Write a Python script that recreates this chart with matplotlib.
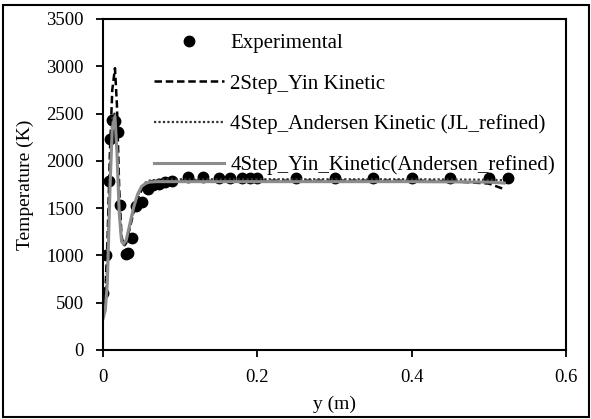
import matplotlib
matplotlib.use("Agg")
import matplotlib.pyplot as plt
from matplotlib.patches import Rectangle

plt.rcParams['font.family'] = ['Liberation Serif', 'DejaVu Serif']

# Experimental data
exp_y = [0.0, 0.0035, 0.0078, 0.0087, 0.012, 0.0156, 0.020, 0.0217, 0.030, 0.033,
         0.038, 0.0425, 0.051, 0.058, 0.065, 0.072, 0.080, 0.090, 0.11, 0.13,
         0.15, 0.165, 0.18, 0.19, 0.20, 0.25, 0.30, 0.35, 0.40, 0.45, 0.50, 0.525]
exp_T = [607, 1000, 1786, 2230, 2436, 2418, 2300, 1536, 1010, 1030,
         1180, 1520, 1560, 1700, 1740, 1760, 1780, 1790, 1830, 1830,
         1820, 1820, 1820, 1815, 1815, 1815, 1815, 1815, 1815, 1815, 1815, 1820]

# 2Step_Yin Kinetic
yin2_y = [0.0, 0.003, 0.006, 0.009, 0.012, 0.0155, 0.018, 0.021, 0.024, 0.027,
          0.030, 0.035, 0.040, 0.045, 0.050, 0.055, 0.060, 0.070, 0.080, 0.10,
          0.20, 0.30, 0.40, 0.45, 0.50, 0.52]
yin2_T = [350, 600, 1200, 2100, 2750, 2980, 2600, 1700, 1200, 1100,
          1130, 1300, 1470, 1600, 1690, 1745, 1770, 1785, 1790, 1790,
          1790, 1790, 1790, 1785, 1760, 1700]

# 4Step_Andersen Kinetic (JL_refined)
and4_y = [0.0, 0.003, 0.006, 0.009, 0.012, 0.015, 0.018, 0.021, 0.024, 0.027,
          0.030, 0.035, 0.040, 0.045, 0.050, 0.055, 0.060, 0.070, 0.080, 0.10,
          0.20, 0.30, 0.40, 0.50, 0.52]
and4_T = [330, 480, 1000, 1900, 2450, 2500, 2150, 1500, 1150, 1110,
          1150, 1320, 1500, 1630, 1720, 1770, 1790, 1800, 1805, 1805,
          1805, 1805, 1805, 1800, 1795]

# 4Step_Yin_Kinetic(Andersen_refined)
yin4_y = [0.0, 0.003, 0.0056, 0.009, 0.012, 0.0155, 0.018, 0.021, 0.024, 0.0265,
          0.030, 0.035, 0.040, 0.045, 0.050, 0.055, 0.060, 0.070, 0.080, 0.10,
          0.20, 0.30, 0.40, 0.50, 0.52]
yin4_T = [330, 420, 700, 1700, 2350, 2470, 2100, 1450, 1150, 1120,
          1160, 1340, 1520, 1650, 1730, 1760, 1775, 1780, 1780, 1780,
          1780, 1780, 1780, 1775, 1765]

fig = plt.figure(figsize=(5.91, 4.19), dpi=100)
ax = fig.add_axes([0.1743, 0.1647, 0.7834, 0.79])

ax.plot(exp_y, exp_T, 'o', color='black', ms=7.5, label='Experimental')
ax.plot(yin2_y, yin2_T, color='black', ls=(0, (3, 1.5)), lw=1.8, label='2Step_Yin Kinetic')
ax.plot(and4_y, and4_T, color='#333333', ls=(0, (1, 1)), lw=1.6,
        label='4Step_Andersen Kinetic (JL_refined)')
ax.plot(yin4_y, yin4_T, color='#8c8c8c', lw=2.2, label='4Step_Yin_Kinetic(Andersen_refined)')

ax.set_xlim(0, 0.6)
ax.set_ylim(0, 3500)
ax.set_xticks([0, 0.2, 0.4, 0.6])
ax.set_xticklabels(['0', '0.2', '0.4', '0.6'])
ax.set_yticks(range(0, 3501, 500))
ax.tick_params(direction='out', length=5, width=1.3, labelsize=13.5, pad=9)
for s in ax.spines.values():
    s.set_linewidth(1.5)

ax.set_xlabel('y (m)', fontsize=14, labelpad=7)
ax.set_ylabel('Temperature (K)', fontsize=14, labelpad=9)

ax.legend(loc='upper left', bbox_to_anchor=(0.07, 1.012), frameon=False, fontsize=15,
          handlelength=3.35, labelspacing=1.0, handletextpad=0.3)

# outer border around figure
fig.patches.append(Rectangle((0.005, 0.005), 0.9915, 0.983, transform=fig.transFigure,
                             fill=False, edgecolor='black', lw=1.5))

fig.savefig('out.png', dpi=100)
